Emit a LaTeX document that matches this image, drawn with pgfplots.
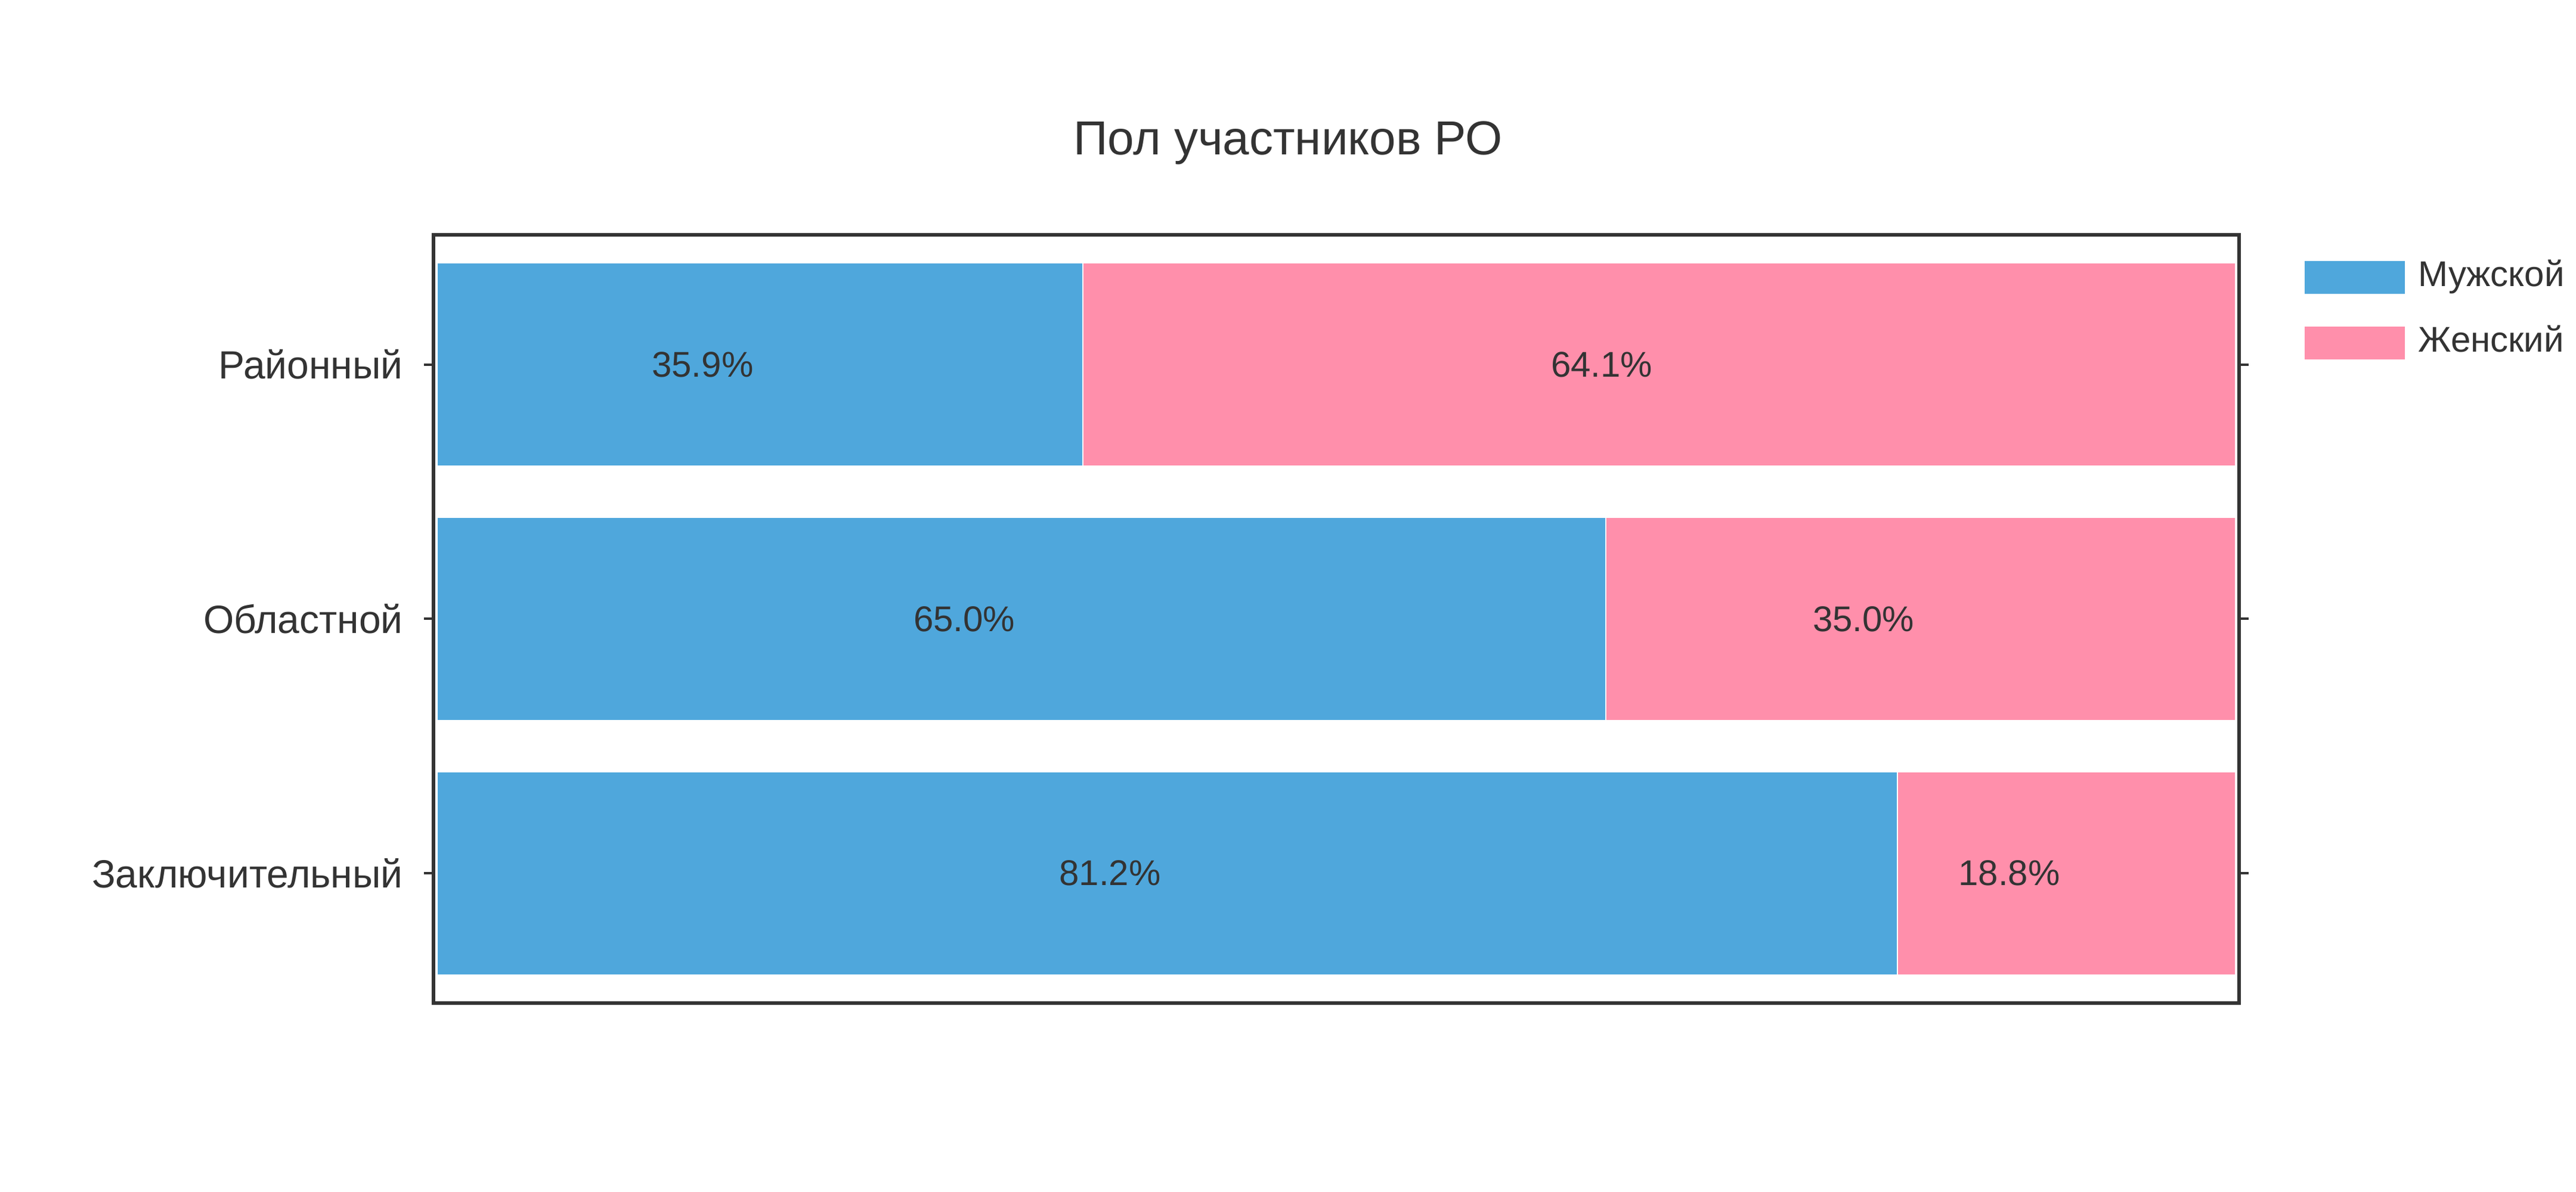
\documentclass[border=0pt]{standalone}
\usepackage{pgfplots}
\pgfplotsset{compat=1.18}
\usepackage{fontspec}
\setmainfont{Liberation Sans}
\definecolor{mblue}{HTML}{4FA7DC}
\definecolor{fpink}{HTML}{FF8FAB}
\definecolor{dgray}{HTML}{333333}
\begin{document}
\begin{tikzpicture}
\path[use as bounding box] (0,0) rectangle (432pt,200pt);
\node[font=\fontsize{8}{9}\selectfont, text=dgray] at (216pt,176pt) {Пол участников РО};
\begin{axis}[
  at={(72.7pt,31.7pt)}, anchor=south west,
  scale only axis, width=302.8pt, height=128.9pt,
  xbar stacked, bar width=0.8,
  xmin=-0.2, xmax=100.2, ymin=-0.51, ymax=2.51,
  ytick={0,1,2}, yticklabels={Заключительный,Областной,Районный},
  xtick=\empty,
  axis line style={dgray, line width=0.55pt},
  y tick label style={font=\fontsize{6.6}{8}\selectfont, text=dgray},
  ytick style={dgray, line width=0.4pt},
  tick align=outside, major tick length=1.6pt,
  /pgf/number format/assume math mode=true,
  nodes near coords={\pgfmathprintnumber[fixed,zerofill,precision=1]{\pgfplotspointmeta}\%},
  point meta=rawx,
  every node near coord/.append style={anchor=east, font=\fontsize{6}{7}\selectfont, text=dgray, inner sep=1pt},
  legend style={at={(1.025,1)}, anchor=north west, draw=none, font=\fontsize{6}{7}\selectfont, text=dgray, row sep=1pt},
  legend cell align=left,
  area legend,
]
\addplot[fill=mblue, draw=white, line width=0.2pt] coordinates {(81.2,0) (65.0,1) (35.9,2)};
\addplot[fill=fpink, draw=white, line width=0.2pt] coordinates {(18.8,0) (35.0,1) (64.1,2)};
\legend{Мужской, Женский}
\end{axis}
\end{tikzpicture}
\end{document}
